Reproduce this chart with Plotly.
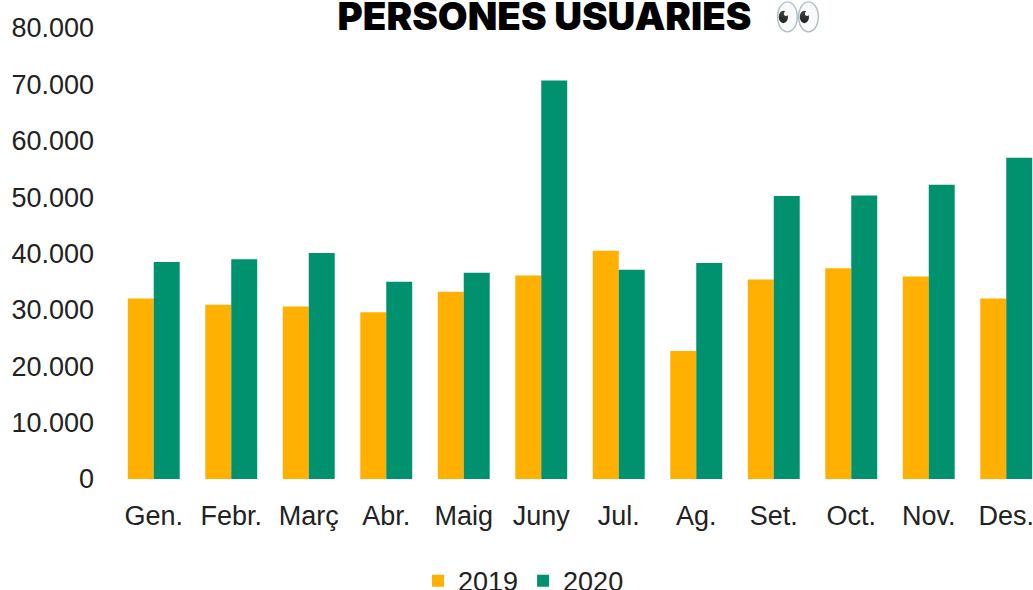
import plotly.graph_objects as go

months = ["Gen.", "Febr.", "Març", "Abr.", "Maig", "Juny", "Jul.", "Ag.", "Set.", "Oct.", "Nov.", "Des."]
v2019 = [32000, 30900, 30600, 29600, 33200, 36100, 40500, 22700, 35400, 37400, 35900, 32000]
v2020 = [38500, 39000, 40100, 35000, 36600, 70700, 37100, 38300, 50200, 50300, 52200, 57000]
yticks = [0, 10000, 20000, 30000, 40000, 50000, 60000, 70000, 80000]
ylabels = ["0", "10.000", "20.000", "30.000", "40.000", "50.000", "60.000", "70.000", "80.000"]

fig = go.Figure()
fig.add_bar(name="2019", x=months, y=v2019, marker_color="#FFB000", marker_line_width=0)
fig.add_bar(name="2020", x=months, y=v2020, marker_color="#00916E", marker_line_width=0)
fig.update_layout(
    width=1033, height=590, barmode="group", bargap=0.33, bargroupgap=0,
    paper_bgcolor="white", plot_bgcolor="white",
    margin=dict(l=115, r=0, t=28, b=111, autoexpand=False),
    font=dict(family="Liberation Sans", size=27, color="#222222"),
    title=dict(text="PERSONES USUARIES   👀", x=0.5615, xanchor="center",
               yref="container", y=0.972, yanchor="middle",
               font=dict(family="Inter", size=38.5, color="#000000", weight=900)),
    legend=dict(orientation="h", x=0.445, xanchor="center", yref="container", y=0.015, yanchor="middle",
                font=dict(size=27)),
    xaxis=dict(showgrid=False, showline=False, ticks="", tickfont=dict(size=27), range=[-0.5, 11.345],
               ticklabelstandoff=18, automargin=False),
    yaxis=dict(range=[0, 80000], tickvals=yticks, ticktext=ylabels, showgrid=False, zeroline=False,
               showline=False, ticks="", tickfont=dict(size=27), ticklabelstandoff=20, automargin=False),
)
fig.write_html("out.html", config={"displayModeBar": False},
               post_script="document.body.style.margin='0';document.documentElement.style.overflow='hidden';")
